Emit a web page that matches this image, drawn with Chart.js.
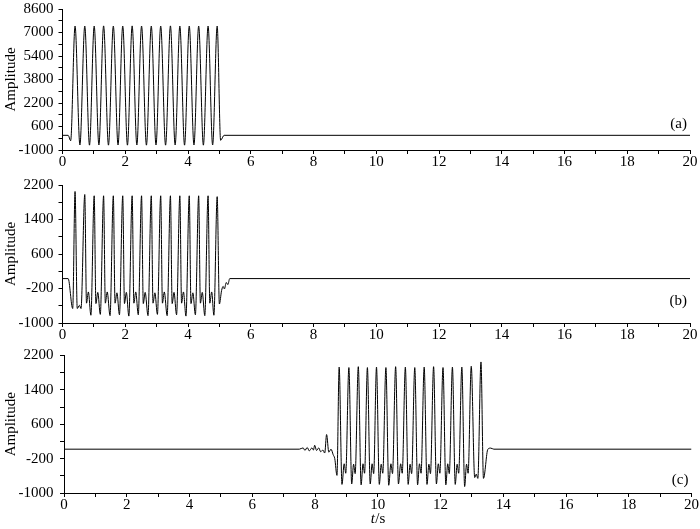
<!DOCTYPE html>
<html>
<head>
<meta charset="utf-8">
<script src="https://cdn.jsdelivr.net/npm/chart.js@4/dist/chart.umd.min.js"></script>
<style>
  html, body { margin: 0; padding: 0; background: #fff; }
  body { width: 700px; height: 529px; position: relative; overflow: hidden; }
  canvas { position: absolute; left: 0; }
</style>
</head>
<body>
<canvas id="ca" width="700" height="185" style="top:-5px"></canvas>
<canvas id="cb" width="700" height="182" style="top:171px"></canvas>
<canvas id="cc" width="700" height="189" style="top:340px"></canvas>
<script>
// ---------- data ----------
const xTicksMajor = [0, 2, 4, 6, 8, 10, 12, 14, 16, 18, 20];
const yTicksA = [-1000, 600, 2200, 3800, 5400, 7000, 8600];
const yTicksBC = [-1000, -200, 600, 1400, 2200];
const panelNames = ['(a)', '(b)', '(c)'];

// panel (a)
const tA = [0, 0.18, 0.26, 0.40,
  0.555, 0.71, 0.86, 1.01, 1.16, 1.31, 1.465, 1.62, 1.77, 1.92,
  2.07, 2.22, 2.37, 2.52, 2.675, 2.83, 2.98, 3.13, 3.285, 3.44,
  3.59, 3.74, 3.89, 4.04, 4.19, 4.34, 4.49, 4.64, 4.785, 4.93,
  5.04, 5.15, 20];
const vA = [0, 0, -370, 7440,
  -660, 7440, -670, 7440, -660, 7450, -670, 7440, -660, 7440,
  -670, 7450, -660, 7440, -670, 7440, -660, 7440, -670, 7450,
  -660, 7440, -670, 7440, -660, 7440, -670, 7440, -660, 7440,
  -340, 0, 0];

// panel (b)
const tB = [0, 0.18, 0.325, 0.40, 0.47, 0.54, 0.59, 0.71,
  0.765, 0.825, 0.905, 1.01,
  1.065, 1.125, 1.205, 1.31,
  1.365, 1.425, 1.515, 1.62,
  1.675, 1.735, 1.815, 1.92,
  1.975, 2.035, 2.115, 2.22,
  2.275, 2.335, 2.415, 2.52,
  2.575, 2.635, 2.725, 2.83,
  2.885, 2.945, 3.025, 3.13,
  3.185, 3.245, 3.335, 3.44,
  3.495, 3.555, 3.635, 3.74,
  3.795, 3.855, 3.935, 4.04,
  4.095, 4.155, 4.235, 4.34,
  4.395, 4.455, 4.535, 4.64,
  4.695, 4.755, 4.825, 4.93,
  5.00, 5.07, 5.12, 5.16, 5.22, 5.27, 5.33, 20];
const vB = [30, 30, -665, 2050, -665, -590, -665, 1980,
  -540, -280, -820, 1950,
  -550, -290, -800, 1950,
  -540, -280, -830, 1950,
  -540, -300, -810, 1950,
  -550, -290, -840, 1950,
  -540, -280, -810, 1950,
  -550, -290, -830, 1950,
  -540, -300, -800, 1950,
  -540, -280, -830, 1950,
  -550, -290, -810, 1950,
  -540, -280, -840, 1950,
  -550, -300, -810, 1950,
  -540, -290, -830, 1950,
  -540, -280, -820, 1930,
  -560, -250, -150, -210, -60, -110, 30, 30];

// panel (c)
const tC = [0, 7.5, 7.62, 7.68, 7.75, 7.82, 7.90, 7.95, 7.99, 8.05, 8.12,
  8.18, 8.25, 8.31, 8.37, 8.44, 8.51, 8.58, 8.63, 8.70, 8.77,
  8.86, 8.93, 8.98, 9.08,
  9.17, 9.23, 9.28, 9.38,
  9.47, 9.53, 9.58, 9.67,
  9.76, 9.82, 9.87, 9.96,
  10.05, 10.11, 10.16, 10.26,
  10.35, 10.42, 10.47, 10.57,
  10.66, 10.73, 10.78, 10.88,
  10.97, 11.03, 11.08, 11.18,
  11.27, 11.33, 11.38, 11.48,
  11.57, 11.63, 11.68, 11.78,
  11.87, 11.93, 11.98, 12.08,
  12.17, 12.23, 12.28, 12.38,
  12.47, 12.53, 12.58, 12.68,
  12.77, 12.83, 12.88, 12.98,
  13.09, 13.14, 13.19, 13.29,
  13.37, 13.51, 13.60, 13.70, 20];
const vC = [20, 20, 50, -10, 60, -20, 50, 0, 110, -10, 50,
  -40, 0, -70, 360, -50, 20, -110, -200, -590, 1930,
  -800, -320, -540, 1920,
  -790, -330, -550, 1940,
  -810, -320, -540, 1920,
  -790, -320, -550, 1930,
  -800, -330, -540, 1920,
  -820, -320, -550, 1940,
  -790, -320, -540, 1930,
  -800, -330, -550, 1920,
  -810, -320, -540, 1930,
  -800, -330, -550, 1940,
  -790, -320, -540, 1920,
  -810, -320, -550, 1930,
  -800, -330, -540, 1930,
  -850, -330, -540, 1950,
  -640, -560, -660, 2050,
  -660, 20, 45, 20, 20];

// ---------- chart building ----------
const SERIF = "'Liberation Serif', 'Times New Roman', serif";

function toPoints(ts, vs) {
  const n = Math.min(ts.length, vs.length);
  const out = [];
  for (let i = 0; i < n; i++) out.push({ x: ts[i], y: vs[i] });
  return out;
}

const panelLabelPlugin = {
  id: 'panelLabel',
  afterDraw(chart, args, opts) {
    const ctx = chart.ctx, a = chart.chartArea;
    ctx.save();
    ctx.font = '15px ' + SERIF;
    ctx.fillStyle = '#000';
    ctx.textAlign = 'right';
    ctx.textBaseline = 'middle';
    ctx.fillText(opts.text, a.right - 3, a.bottom - opts.dy);
    if (opts.xTitle) {
      const it = 'italic 15px ' + SERIF, nm = '15px ' + SERIF;
      ctx.font = it; const w1 = ctx.measureText('t').width;
      ctx.font = nm; const w2 = ctx.measureText('/s').width;
      const x0 = (a.left + a.right) / 2 - (w1 + w2) / 2;
      const y = chart.height - 10;
      ctx.textAlign = 'left';
      ctx.font = it; ctx.fillText('t', x0, y);
      ctx.font = nm; ctx.fillText('/s', x0 + w1 + 0.5, y);
    }
    ctx.restore();
  }
};

function makeChart(id, ts, vs, cfg) {
  const ctx = document.getElementById(id);
  return new Chart(ctx, {
    type: 'line',
    data: {
      datasets: [{
        data: toPoints(ts, vs),
        borderColor: '#000',
        borderWidth: 1,
        pointRadius: 0,
        cubicInterpolationMode: 'monotone',
        fill: false
      }]
    },
    options: {
      responsive: false,
      animation: false,
      devicePixelRatio: 1,
      layout: { padding: { top: 12, right: cfg.padRight, bottom: 0, left: 0 } },
      plugins: {
        legend: { display: false },
        tooltip: { enabled: false },
        panelLabel: { text: cfg.label, dy: cfg.labelDy, xTitle: cfg.xTitle }
      },
      scales: {
        x: {
          type: 'linear',
          min: 0, max: 20,
          afterFit(s) { s.height = cfg.xHeight; },
          border: { display: true, color: '#000', width: 1 },
          grid: { drawOnChartArea: false, drawTicks: true, tickLength: 4, color: '#000', tickWidth: 1 },
          ticks: {
            stepSize: 1, autoSkip: false, maxRotation: 0, padding: 1,
            color: '#000', font: { family: SERIF, size: 15, lineHeight: 1 },
            callback: (v) => xTicksMajor.includes(v) ? String(v) : ''
          }
        },
        y: {
          type: 'linear',
          min: cfg.yMin, max: cfg.yMax,
          afterFit(s) { s.width = cfg.yWidth; },
          border: { display: true, color: '#000', width: 1 },
          grid: { drawOnChartArea: false, drawTicks: true, tickLength: 4, color: '#000', tickWidth: 1 },
          title: {
            display: true, text: 'Amplitude', color: '#000',
            font: { family: SERIF, size: 15 }, padding: { top: 2, bottom: 0 }
          },
          ticks: {
            stepSize: cfg.yStep, autoSkip: false, padding: cfg.yPad,
            color: '#000', font: { family: SERIF, size: 15 },
            callback: (v) => cfg.yLabels.includes(v) ? String(v) : ''
          }
        }
      }
    },
    plugins: [panelLabelPlugin]
  });
}

makeChart('ca', tA, vA, {
  label: panelNames[0], labelDy: 26, xTitle: false,
  yMin: -1000, yMax: 8600, yStep: 800, yLabels: yTicksA,
  yWidth: 62.5, yPad: 5, padRight: 10, xHeight: 30
});
makeChart('cb', tB, vB, {
  label: panelNames[1], labelDy: 22, xTitle: false,
  yMin: -1000, yMax: 2200, yStep: 400, yLabels: yTicksBC,
  yWidth: 62.5, yPad: 5, padRight: 10, xHeight: 30
});
makeChart('cc', tC, vC, {
  label: panelNames[2], labelDy: 13, xTitle: true,
  yMin: -1000, yMax: 2200, yStep: 400, yLabels: yTicksBC,
  yWidth: 64, yPad: 6.5, padRight: 8, xHeight: 36
});
</script>
</body>
</html>
